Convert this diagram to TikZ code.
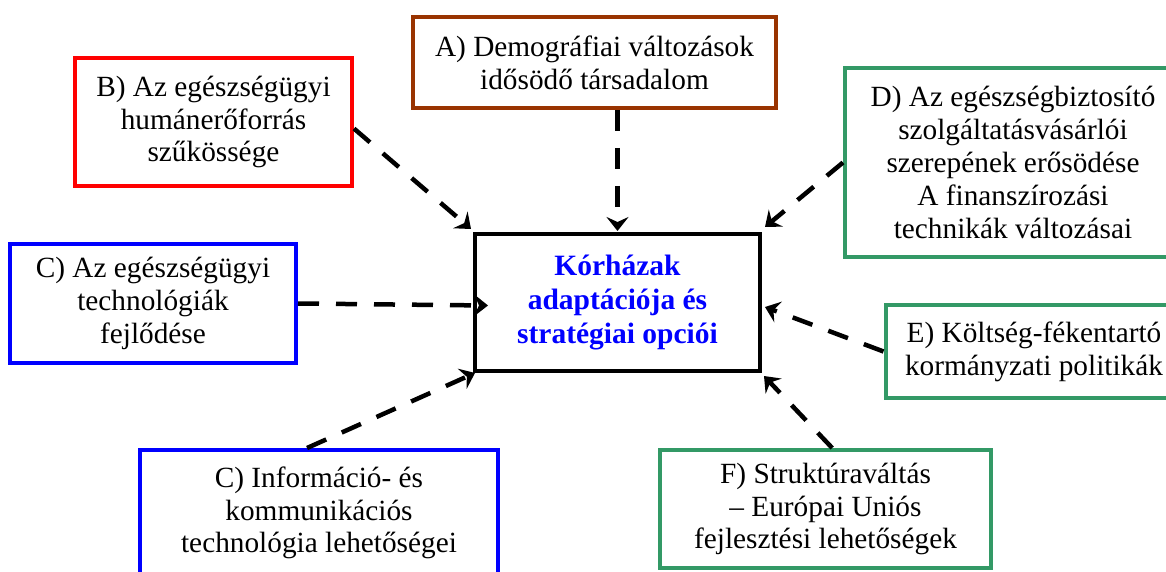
\documentclass[tikz,border=0pt]{standalone}
\usepackage{fontspec}
\setmainfont{Liberation Serif}
\usetikzlibrary{arrows.meta,calc}
\definecolor{cbrown}{HTML}{993300}
\definecolor{cred}{HTML}{FF0000}
\definecolor{cblue}{HTML}{0000FF}
\definecolor{cgreen}{HTML}{339966}
\tikzset{
  box/.style={draw, line width=4pt, fill=white, align=center, inner sep=0pt,
    font=\fontsize{29.3}{32.8}\selectfont},
  hub/.style={box, draw=black, text=cblue, font=\fontsize{29.5}{34}\selectfont\bfseries},
  flow/.style={line width=4.5pt, dash pattern=on 21pt off 17pt,
    -{Stealth[length=14pt,width=22pt,inset=5pt]}}
}
\begin{document}
\begin{tikzpicture}[x=1pt,y=-1pt]
\useasboundingbox (0,0) rectangle (1166,572);
\clip (0,0) rectangle (1166,572);
\node[box, draw=cbrown, minimum width=363pt, minimum height=91pt] (A) at (594.5,62.5)
  {A) Demográfiai változások\\idősödő társadalom};
\node[box, draw=cred, minimum width=277pt, minimum height=128pt] (B) at (213.5,122)
  {B) Az egészségügyi\\humánerőforrás\\szűkössége};
\node[box, draw=cblue, minimum width=286pt, minimum height=119pt] (C1) at (153,303.5)
  {C) Az egészségügyi\\technológiák\\fejlődése};
\node[hub, minimum width=285pt, minimum height=137pt] (K) at (617.5,302.5)
  {Kórházak\\adaptációja és\\stratégiai opciói};
\node[box, draw=cgreen, minimum width=336pt, minimum height=189pt] (D) at (1013,162.5)
  {D) Az egészségbiztosító\\szolgáltatásvásárlói\\szerepének erősödése\\A finanszírozási\\technikák változásai};
\node[box, draw=cgreen, minimum width=297pt, minimum height=93pt] (E) at (1034,351.5)
  {E) Költség-fékentartó\\kormányzati politikák};
\node[box, draw=cblue, minimum width=358pt, minimum height=126pt] (C2) at (319,513)
  {C) Információ- és\\kommunikációs\\technológia lehetőségei};
\node[box, draw=cgreen, minimum width=331pt, minimum height=118pt] (F) at (825.5,509)
  {F) Struktúraváltás\\– Európai Uniós\\fejlesztési lehetőségek};
\draw[flow] (K.north |- A.south) -- ($(K.north)+(0,-1)$);
\draw[flow] ($(B.north east)!0.55!(B.south east)$) -- ($(K.north west)+(-2,-3)$);
\draw[flow] (C1.east) -- ($(K.west)+(15,3)$);
\draw[flow] (D.west) -- ($(K.north east)+(3,-5)$);
\draw[flow] (E.west) -- ($(K.east)+(3,4.5)$);
\draw[flow] ($(C2.north west)!0.467!(C2.north east)$) -- ($(K.south west)+(2,0)$);
\draw[flow] ($(F.north west)!0.52!(F.north east)$) -- ($(K.south east)+(2,3)$);
\end{tikzpicture}
\end{document}
